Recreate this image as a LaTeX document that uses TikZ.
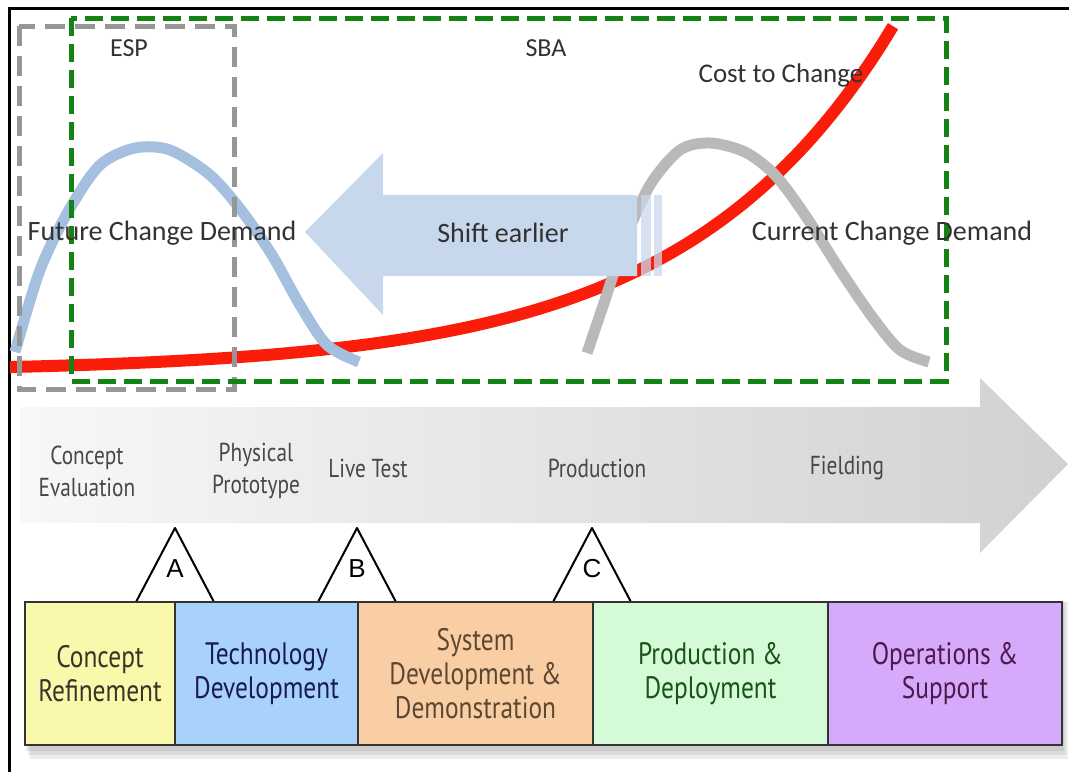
\documentclass[tikz,border=0pt]{standalone}
\usepackage{fontspec}
\setmainfont{Carlito}
\newfontfamily\narrowfont[FakeStretch=0.82]{PT Sans}
\newfontfamily\letterfont{Liberation Sans}
\usetikzlibrary{arrows,shapes,backgrounds,positioning}
\tikzset{>=stealth'}

\definecolor{costred}{RGB}{250,30,10}
\definecolor{futureblue}{RGB}{165,192,222}
\definecolor{currentgray}{RGB}{185,185,185}
\definecolor{shiftblue}{RGB}{200,216,236}
\definecolor{espgray}{RGB}{150,150,150}
\definecolor{sbagreen}{RGB}{20,130,20}
\definecolor{labelgray}{RGB}{50,50,50}
\definecolor{refineyellow}{RGB}{250,248,170}
\definecolor{techblue}{RGB}{168,210,250}
\definecolor{sysorange}{RGB}{250,206,165}
\definecolor{prodgreen}{RGB}{212,250,216}
\definecolor{opspurple}{RGB}{214,170,250}

\tikzset{
  toplabel/.style={text=labelgray, font=\fontsize{28}{32}\selectfont, inner sep=1pt},
  steplabel/.style={text=black!72, align=center, font={\narrowfont\fontsize{26}{32}\selectfont}},
  phase/.style={draw=black!80, line width=2pt, minimum height=143pt, inner sep=0pt, outer sep=0pt,
    align=center, font={\narrowfont\fontsize{31}{34}\selectfont}},
  demand/.style={line width=11pt},
}

\begin{document}
\begin{tikzpicture}[x=1pt,y=-1pt]
\def\boxT {602}   % top of the phase boxes
\def\boxB {745}   % bottom of the phase boxes
\def\triT {528}   % apex of the milestone triangles
\def\triW {39}    % half width of a milestone triangle
\useasboundingbox (0,0) rectangle (1069,772);
% frame:
 \draw[draw=black, line width=3pt] (9,772) -- (9,8) -- (1069,8);
% curves:
 \draw[draw=costred, line width=12pt] plot[domain=10:893, samples=80, smooth] (\x, {372-104*exp(0.0048*(\x-643))});
 \draw[draw=futureblue, demand] plot[smooth] coordinates {(15,352) (40,270) (69,210) (100,165) (135,148) (170,150) (210,175) (241,210) (272,255) (300,305) (327,345) (359,362)};
 \draw[draw=currentgray, demand] plot[smooth] coordinates {(587,353) (605,300) (625,240) (650,185) (680,150) (710,143) (745,152) (775,175) (805,215) (840,270) (873,318) (900,350) (929,362)};
% shift arrow:
 \fill[shiftblue] (637,195) -- (383,195) -- (383,153) -- (305,232) -- (383,315) -- (383,276) -- (637,276) -- cycle;
 \fill[shiftblue, opacity=0.75] (641,195) rectangle (651,276);
 \fill[shiftblue, opacity=0.75] (654,195) rectangle (662,276);
% boxes ESP / SBA:
 \draw[draw=espgray, line width=5pt, dash pattern=on 20pt off 10pt] (19,26) rectangle (234,389);
 \draw[draw=sbagreen, line width=5pt, dash pattern=on 18pt off 8pt] (71,18) rectangle (946,381);
% labels top:
 \node[toplabel, font=\fontsize{26}{30}\selectfont] (esp) at (129,48) {ESP};
 \node[toplabel, font=\fontsize{26}{30}\selectfont] (sba) at (546,48) {SBA};
 \node[toplabel, font=\fontsize{27}{31}\selectfont] (cost) at (781,75) {Cost to Change};
 \node[toplabel] (future) at (162,233) {Future Change Demand};
 \node[toplabel] (shift) at (503,233) {Shift earlier};
 \node[toplabel] (current) at (892,233) {Current Change Demand};
% process arrow:
 \shade[left color=black!3, right color=black!18] (20,407) -- (980,407) -- (980,378) -- (1068,464) -- (980,553) -- (980,523) -- (20,523) -- cycle;
 \node[steplabel] (evaluation) at (87,471) {Concept\\Evaluation};
 \node[steplabel] (prototype) at (256,471) {Physical\\Prototype};
 \node[steplabel] (livetest) at (368,468) {Live Test};
 \node[steplabel] (production) at (597,468) {Production};
 \node[steplabel] (fielding) at (847,468) {Fielding};
% milestones:
 \draw[draw=black, fill=white, line width=2pt, line join=round] (175-\triW,\boxT) -- (175,\triT) -- (175+\triW,\boxT);
 \draw[draw=black, fill=white, line width=2pt, line join=round] (357-\triW,\boxT) -- (357,\triT) -- (357+\triW,\boxT);
 \draw[draw=black, fill=white, line width=2pt, line join=round] (592-\triW,\boxT) -- (592,\triT) -- (592+\triW,\boxT);
 \node[font=\letterfont\fontsize{26}{26}\selectfont] (milA) at (175,569) {A};
 \node[font=\letterfont\fontsize{26}{26}\selectfont] (milB) at (357,569) {B};
 \node[font=\letterfont\fontsize{26}{26}\selectfont] (milC) at (592,569) {C};
% shadow:
 \fill[black, opacity=0.07] (30,\boxT) rectangle (1068,\boxB+14);
 \fill[black, opacity=0.07] (28,\boxT) rectangle (1066,\boxB+10);
 \fill[black, opacity=0.08] (26,\boxT) rectangle (1064,\boxB+6);
% phases:
 \node[phase, fill=refineyellow, text=black!80!olive, minimum width=150pt] (refinement) at (100,673.5) {Concept\\Refinement};
 \node[phase, fill=techblue, text=blue!25!black!90, minimum width=183pt] (techdev) at (266.5,673.5) {Technology\\Development};
 \node[phase, fill=sysorange, text=brown!40!black!90, minimum width=235pt] (sysdev) at (475.5,673.5) {System\\Development \&\\Demonstration};
 \node[phase, fill=prodgreen, text=green!25!black!90, minimum width=235pt] (proddep) at (710.5,673.5) {Production \&\\Deployment};
 \node[phase, fill=opspurple, text=violet!45!black!90, minimum width=234pt] (opsup) at (945,673.5) {Operations \&\\Support};
\end{tikzpicture}
\end{document}
